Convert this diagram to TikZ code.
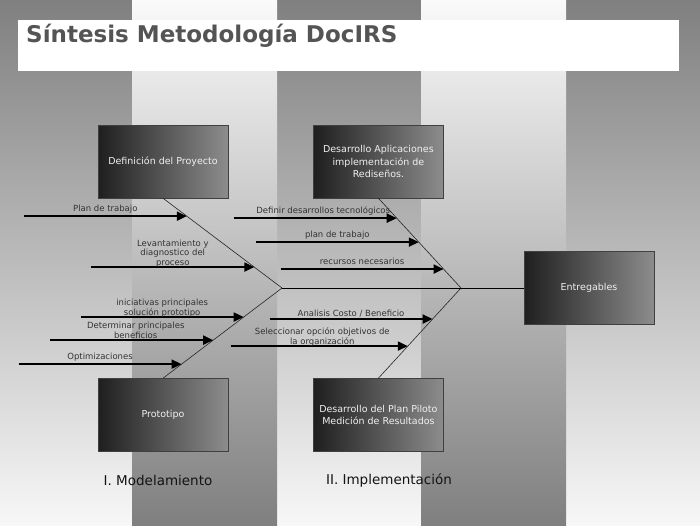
\documentclass[tikz,border=0pt]{standalone}
\usepackage{fontspec}
\setmainfont{DejaVu Sans}
\usetikzlibrary{positioning,calc,arrows.meta}

\tikzstyle{caja} = [rectangle, minimum width=130pt, minimum height=73pt, text centered, align=center, draw=black!75, left color=black!88, right color=black!45, text=white!94!black, font=\fontsize{9.5}{12.5}\selectfont]
\tikzstyle{etiq} = [align=center, inner sep=0pt, text depth=1.5pt, text=black!80, font=\fontsize{8.5}{9.5}\selectfont]
\tikzstyle{etapa} = [inner sep=0pt, text=black!92, font=\fontsize{13.5}{16}\selectfont]
\tikzstyle{flecha} = [line width=2pt, -{Triangle[length=10pt,width=9pt]}]
\tikzstyle{espina} = [line width=0.6pt, draw=black!85]

\begin{document}
\begin{tikzpicture}[x=1pt, y=-1pt, node distance=85pt]
        \useasboundingbox (0,0) rectangle (700,525);

        % fondo a franjas
        \foreach \a/\b in {0/132, 277/421, 566/700}
            \shade[top color=black!50, bottom color=black!3] (\a,0) rectangle (\b,525);
        \foreach \a/\b in {132/277, 421/566}
            \shade[top color=black!2, bottom color=black!50] (\a,0) rectangle (\b,525);

        % titulo
        \node (marco) [fill=white, minimum width=661pt, minimum height=51pt, anchor=north west, inner sep=0pt] at (18,20) {};
        \node (titulo) [anchor=base west, inner sep=0pt, text=black!67, font=\fontsize{23}{27}\selectfont\bfseries] at (26,42) {Síntesis Metodología DocIRS};

        % cajas
        \node (def) [caja] at (163,161.5) {Definición del Proyecto};
        \node (des) [caja, right=85pt of def] {Desarrollo Aplicaciones\\implementación de\\Rediseños.};
        \node (pro) [caja, below=180pt of def] {Prototipo};
        \node (pil) [caja, below=180pt of des] {Desarrollo del Plan Piloto\\Medición de Resultados};
        \node (ent) [caja] at (589,288) {Entregables};

        % espinas
        \coordinate (ai) at (282,288);
        \coordinate (ad) at (461,288);
        \draw [espina] (def.south) -- (ai) -- (pro.north);
        \draw [espina] (des.south) -- (ad) -- (pil.north);
        \draw [line width=0.8pt] (ai) -- (ent.west);

        % I. Modelamiento
        \coordinate (p1) at ($(def.south)!0.2!(ai)$);
        \coordinate (c1) at ($(p1)+(-163,0)$);
        \draw [flecha] (c1) -- (p1);
        \node (e1) [etiq, anchor=south, yshift=2.5pt] at ($(c1)!0.5!(p1)$) {Plan de trabajo};

        \coordinate (p2) at ($(def.south)!0.767!(ai)$);
        \coordinate (c2) at ($(p2)+(-163,0)$);
        \draw [flecha] (c2) -- (p2);
        \node (e2) [etiq, anchor=south] at ($(c2)!0.5!(p2)$) {Levantamiento y\\diagnostico del\\proceso};

        \coordinate (p3) at ($(pro.north)!0.678!(ai)$);
        \coordinate (c3) at ($(p3)+(-163,0)$);
        \draw [flecha] (c3) -- (p3);
        \node (e3) [etiq, anchor=south] at ($(c3)!0.5!(p3)$) {iniciativas principales\\solución prototipo};

        \coordinate (p4) at ($(pro.north)!0.422!(ai)$);
        \coordinate (c4) at ($(p4)+(-163,0)$);
        \draw [flecha] (c4) -- (p4);
        \node (e4) [etiq, anchor=south, xshift=4pt] at ($(c4)!0.5!(p4)$) {Determinar principales\\beneficios};

        \coordinate (p5) at ($(pro.north)!0.156!(ai)$);
        \coordinate (c5) at ($(p5)+(-163,0)$);
        \draw [flecha] (c5) -- (p5);
        \node (e5) [etiq, anchor=south, yshift=2.5pt] at ($(c5)!0.5!(p5)$) {Optimizaciones};

        % II. Implementacion
        \coordinate (q1) at ($(des.south)!0.222!(ad)$);
        \coordinate (d1) at ($(q1)+(-163,0)$);
        \draw [flecha] (d1) -- (q1);
        \node (f1) [etiq, anchor=south, yshift=2.5pt, xshift=8pt] at ($(d1)!0.5!(q1)$) {Definir desarrollos tecnológicos};

        \coordinate (q2) at ($(des.south)!0.489!(ad)$);
        \coordinate (d2) at ($(q2)+(-163,0)$);
        \draw [flecha] (d2) -- (q2);
        \node (f2) [etiq, anchor=south, yshift=2.5pt] at ($(d2)!0.5!(q2)$) {plan de trabajo};

        \coordinate (q3) at ($(des.south)!0.789!(ad)$);
        \coordinate (d3) at ($(q3)+(-163,0)$);
        \draw [flecha] (d3) -- (q3);
        \node (f3) [etiq, anchor=south, yshift=2.5pt] at ($(d3)!0.5!(q3)$) {recursos necesarios};

        \coordinate (q4) at ($(pil.north)!0.656!(ad)$);
        \coordinate (d4) at ($(q4)+(-163,0)$);
        \draw [flecha] (d4) -- (q4);
        \node (f4) [etiq, anchor=south, yshift=1pt] at ($(d4)!0.5!(q4)$) {Analisis Costo / Beneficio};

        \coordinate (q5) at ($(pil.north)!0.356!(ad)$);
        \coordinate (d5) at ($(q5)+(-177,0)$);
        \draw [flecha] (d5) -- (q5);
        \node (f5) [etiq, anchor=south, xshift=3pt] at ($(d5)!0.5!(q5)$) {Seleccionar opción objetivos de\\la organización};

        % etapas
        \node (m1) [etapa] at (158,480) {I. Modelamiento};
        \node (m2) [etapa] at (389,480) {II. Implementación};
    \end{tikzpicture}
\end{document}
